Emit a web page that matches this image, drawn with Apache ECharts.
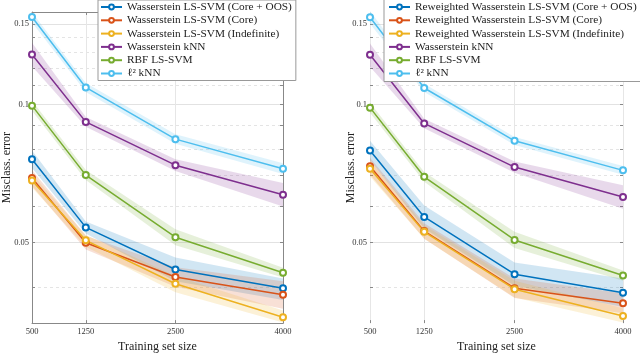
<!DOCTYPE html>
<html>
<head>
<meta charset="utf-8">
<script src="https://cdn.jsdelivr.net/npm/echarts@6/dist/echarts.min.js"></script>
<style>
  html, body { margin: 0; padding: 0; background: #fff; }
  #chart { width: 640px; height: 358px; }
</style>
</head>
<body>
<div id="chart"></div>
<script>
// training set sizes
const sizes = [500, 1250, 2500, 4000];
const xTicks = [500, 1250, 2500, 4000];
const yLabels = [0.05, 0.1, 0.15];
const yMinor = [0.04, 0.05, 0.06, 0.07, 0.08, 0.09, 0.1, 0.11, 0.12, 0.13, 0.14, 0.15];

// left panel
const leftNames = ['Wasserstein LS-SVM (Core + OOS)', 'Wasserstein LS-SVM (Core)', 'Wasserstein LS-SVM (Indefinite)', 'Wasserstein kNN', 'RBF LS-SVM', 'ℓ² kNN'];
const leftOos = [0.0760, 0.0540, 0.0437, 0.0398];
const leftOosUp = [0.0794, 0.0556, 0.0464, 0.0418];
const leftOosLo = [0.0728, 0.0524, 0.0412, 0.0375];
const leftCore = [0.0692, 0.0500, 0.0421, 0.0385];
const leftCoreUp = [0.0720, 0.0518, 0.0442, 0.0412];
const leftCoreLo = [0.0665, 0.0483, 0.0401, 0.0359];
const leftIndef = [0.0683, 0.0506, 0.0407, 0.0344];
const leftIndefUp = [0.0706, 0.0520, 0.0423, 0.0356];
const leftIndefLo = [0.0660, 0.0490, 0.0390, 0.0335];
const leftWknn = [0.1286, 0.0917, 0.0738, 0.0636];
const leftWknnUp = [0.1365, 0.0940, 0.0760, 0.0675];
const leftWknnLo = [0.1212, 0.0895, 0.0717, 0.0600];
const leftRbf = [0.0995, 0.0702, 0.0514, 0.0430];
const leftRbfUp = [0.1020, 0.0720, 0.0535, 0.0441];
const leftRbfLo = [0.0970, 0.0685, 0.0494, 0.0420];
const leftL2 = [0.1552, 0.1090, 0.0841, 0.0725];
const leftL2Up = [0.1590, 0.1115, 0.0862, 0.0745];
const leftL2Lo = [0.1510, 0.1066, 0.0822, 0.0706];

// right panel
const rightNames = ['Reweighted Wasserstein LS-SVM (Core + OOS)', 'Reweighted Wasserstein LS-SVM (Core)', 'Reweighted Wasserstein LS-SVM (Indefinite)', 'Wasserstein kNN', 'RBF LS-SVM', 'ℓ² kNN'];
const rightOos = [0.0794, 0.0569, 0.0427, 0.0389];
const rightOosUp = [0.0834, 0.0603, 0.0453, 0.0418];
const rightOosLo = [0.0756, 0.0537, 0.0403, 0.0362];
const rightCore = [0.0734, 0.0530, 0.0398, 0.0369];
const rightCoreUp = [0.0766, 0.0551, 0.0418, 0.0388];
const rightCoreLo = [0.0703, 0.0510, 0.0379, 0.0351];
const rightIndef = [0.0725, 0.0528, 0.0396, 0.0346];
const rightIndefUp = [0.0754, 0.0546, 0.0413, 0.0360];
const rightIndefLo = [0.0697, 0.0510, 0.0380, 0.0335];
const rightWknn = [0.1284, 0.0910, 0.0731, 0.0629];
const rightWknnUp = [0.1360, 0.0932, 0.0752, 0.0667];
const rightWknnLo = [0.1210, 0.0888, 0.0710, 0.0593];
const rightRbf = [0.0985, 0.0696, 0.0507, 0.0424];
const rightRbfUp = [0.1010, 0.0713, 0.0528, 0.0435];
const rightRbfLo = [0.0960, 0.0679, 0.0487, 0.0413];
const rightL2 = [0.1550, 0.1087, 0.0834, 0.0719];
const rightL2Up = [0.1600, 0.1110, 0.0850, 0.0735];
const rightL2Lo = [0.1500, 0.1065, 0.0817, 0.0703];

const colors = ['#0072BD', '#D95319', '#EDB120', '#7E2F8E', '#77AC30', '#4DBEEE'];
const FONT = 'Liberation Serif';
const Y_MIN = 0.0334, Y_MAX = 0.1592;

const leftSets = [
  [leftOos, leftOosUp, leftOosLo], [leftCore, leftCoreUp, leftCoreLo], [leftIndef, leftIndefUp, leftIndefLo],
  [leftWknn, leftWknnUp, leftWknnLo], [leftRbf, leftRbfUp, leftRbfLo], [leftL2, leftL2Up, leftL2Lo]
];
const rightSets = [
  [rightOos, rightOosUp, rightOosLo], [rightCore, rightCoreUp, rightCoreLo], [rightIndef, rightIndefUp, rightIndefLo],
  [rightWknn, rightWknnUp, rightWknnLo], [rightRbf, rightRbfUp, rightRbfLo], [rightL2, rightL2Up, rightL2Lo]
];

function bandSeries (name, up, lo, color, xi, yi) {
  return {
    name: name,
    type: 'custom',
    coordinateSystem: 'cartesian2d',
    xAxisIndex: xi,
    yAxisIndex: yi,
    z: 1,
    silent: true,
    data: [[sizes[0], up[0]]],
    renderItem: (params, api) => {
      const pts = [];
      for (let i = 0; i < sizes.length; i++) pts.push(api.coord([sizes[i], up[i]]));
      for (let i = sizes.length - 1; i >= 0; i--) pts.push(api.coord([sizes[i], lo[i]]));
      return {
        type: 'polygon',
        shape: { points: pts },
        style: { fill: color, opacity: 0.18 }
      };
    }
  };
}

function lineSeries (name, vals, color, xi, yi) {
  return {
    name: name,
    type: 'line',
    xAxisIndex: xi,
    yAxisIndex: yi,
    z: 3,
    data: sizes.map((s, i) => [s, vals[i]]),
    symbol: 'emptyCircle',
    symbolSize: 6,
    color: color,
    lineStyle: { width: 1.5, color: color },
    itemStyle: { color: color, borderWidth: 1.3 }
  };
}

function xAxes (gridIndex, showLine) {
  return [
    {
      type: 'value', gridIndex: gridIndex, position: 'bottom', min: 500, max: 4000,
      name: 'Training set size', nameLocation: 'middle', nameGap: 14,
      nameTextStyle: { fontFamily: FONT, fontSize: 12, color: '#222' },
      axisLine: { show: showLine, lineStyle: { color: '#888', width: 1 } },
      axisTick: { show: true, inside: true, length: 3, customValues: xTicks, lineStyle: { color: '#888' } },
      axisLabel: { customValues: xTicks, margin: 4, fontFamily: FONT, fontSize: 8.5, color: '#333', formatter: v => String(v) },
      splitLine: { show: true, lineStyle: { color: '#e6e6e6', width: 1 } }
    },
    {
      type: 'value', gridIndex: gridIndex, position: 'top', min: 500, max: 4000,
      axisLine: { show: showLine, lineStyle: { color: '#888', width: 1 } },
      axisTick: { show: showLine, inside: true, length: 3, customValues: xTicks, lineStyle: { color: '#888' } },
      axisLabel: { show: false },
      splitLine: { show: false }
    }
  ];
}

function yAxes (gridIndex, showLine, nameGap) {
  return [
    {
      type: 'log', logBase: 10, gridIndex: gridIndex, position: 'left', min: Y_MIN, max: Y_MAX,
      name: 'Misclass. error', nameLocation: 'middle', nameGap: nameGap, nameRotate: 90,
      nameMoveOverlap: false,
      nameTextStyle: { fontFamily: FONT, fontSize: 12, color: '#222' },
      axisLine: { show: showLine, lineStyle: { color: '#888', width: 1 } },
      axisTick: { show: true, inside: true, length: 3, customValues: yMinor, lineStyle: { color: '#888' } },
      axisLabel: { customValues: yLabels, margin: 3, fontFamily: FONT, fontSize: 8.5, color: '#333', formatter: v => String(+(+v).toFixed(2)) },
      splitLine: { show: true, lineStyle: { color: '#e4e4e4', width: 1, type: [3, 3] } }
    },
    {
      type: 'log', logBase: 10, gridIndex: gridIndex, position: 'left', min: Y_MIN, max: Y_MAX,
      axisLine: { show: false },
      axisTick: { show: false, customValues: yLabels },
      axisLabel: { show: false },
      splitLine: { show: true, lineStyle: { color: '#e2e2e2', width: 1 } }
    },
    {
      type: 'log', logBase: 10, gridIndex: gridIndex, position: 'right', min: Y_MIN, max: Y_MAX,
      axisLine: { show: showLine, lineStyle: { color: '#888', width: 1 } },
      axisTick: { show: true, inside: true, length: 3, customValues: yMinor, lineStyle: { color: '#888' } },
      axisLabel: { show: false },
      splitLine: { show: false }
    }
  ];
}

const series = [];
leftSets.forEach((s, i) => series.push(bandSeries('band-l' + i, s[1], s[2], colors[i], 0, 0)));
rightSets.forEach((s, i) => series.push(bandSeries('band-r' + i, s[1], s[2], colors[i], 2, 3)));
leftSets.forEach((s, i) => series.push(lineSeries(leftNames[i], s[0], colors[i], 0, 0)));
rightSets.forEach((s, i) => series.push(lineSeries(rightNames[i], s[0], colors[i], 2, 3)));

const legendBase = {
  orient: 'vertical',
  top: 0,
  itemWidth: 21,
  itemHeight: 6,
  itemGap: 1.3,
  backgroundColor: '#fff',
  borderColor: '#999',
  borderWidth: 1,
  borderRadius: 0,
  selectedMode: false,
  textStyle: { fontFamily: FONT, fontSize: 11.3, lineHeight: 12, color: '#222' }
};

const chart = echarts.init(document.getElementById('chart'), null, { renderer: 'canvas' });
chart.setOption({
  backgroundColor: '#fff',
  animation: false,
  grid: [
    { left: 31, right: 357, top: 12, bottom: 27 },
    { left: 370, right: 17, top: 12, bottom: 27 }
  ],
  xAxis: xAxes(0, true).concat(xAxes(1, false)),
  yAxis: yAxes(0, true, 19).concat(yAxes(1, false, 13)),
  legend: [
    Object.assign({}, legendBase, { left: 98, padding: [1, 4, 1, 2], data: leftNames }),
    Object.assign({}, legendBase, { left: 384, top: -1, padding: [2, 20, 2, 4], data: rightNames })
  ],
  series: series
});
</script>
</body>
</html>
